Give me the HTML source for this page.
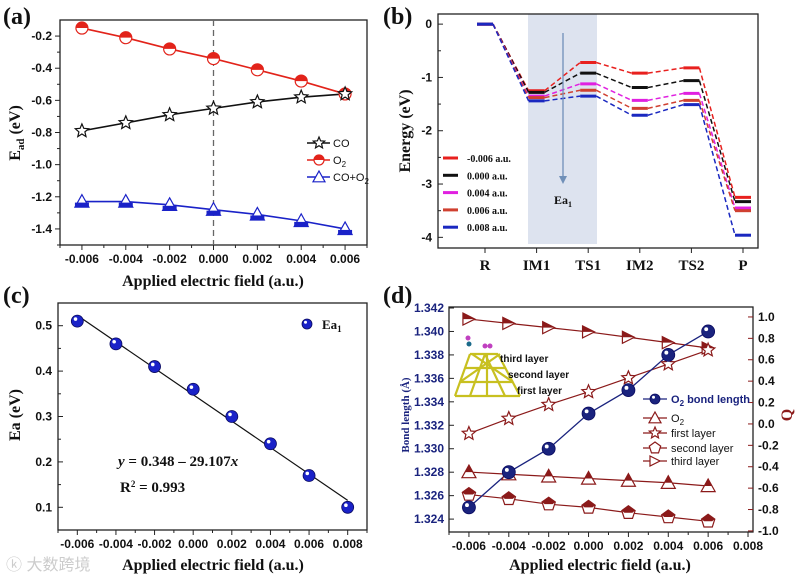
<!DOCTYPE html>
<html><head><meta charset="utf-8"><style>
body{margin:0;background:#fff;}
svg{display:block;font-family:"Liberation Sans",sans-serif;}
.tk{font-size:12px;font-weight:bold;fill:#111;}
.ti{font-family:"Liberation Serif",serif;font-weight:bold;font-size:16px;fill:#111;}
.pl{font-family:"Liberation Serif",serif;font-weight:bold;font-size:24px;fill:#111;}
.lg{font-size:11px;fill:#111;}
.lgs{font-family:"Liberation Serif",serif;font-weight:bold;font-size:10px;fill:#111;}
</style></head><body>
<svg id="fig" width="800" height="577" viewBox="0 0 800 577">
<text class="pl" x="3" y="24">(a)</text>
<text class="pl" x="383" y="24">(b)</text>
<text class="pl" x="3" y="303">(c)</text>
<text class="pl" x="383" y="303">(d)</text>
<text x="6" y="570" font-size="16" fill="#ccc" font-family="'Liberation Sans','Noto Sans CJK SC',sans-serif">ⓚ 大数跨境</text>
</svg>
<script>
// ---------- data ----------
const fieldA = [-0.006,-0.004,-0.002,0,0.002,0.004,0.006];
const coA = [-0.79,-0.74,-0.69,-0.65,-0.61,-0.58,-0.56];
const o2A = [-0.15,-0.21,-0.28,-0.34,-0.41,-0.48,-0.56];
const coo2A = [-1.23,-1.23,-1.25,-1.28,-1.31,-1.35,-1.40];
const ticksAx = ["-0.006","-0.004","-0.002","0.000","0.002","0.004","0.006"];
const ticksAy = [-0.2,-0.4,-0.6,-0.8,-1.0,-1.2,-1.4];

const statesB = ["R","IM1","TS1","IM2","TS2","P"];
const fieldsB = ["-0.006 a.u.","0.000 a.u.","0.004 a.u.","0.006 a.u.","0.008 a.u."];
const eM006 = [0,-1.25,-0.72,-0.92,-0.82,-3.25];
const e000 = [0,-1.28,-0.92,-1.19,-1.06,-3.33];
const e004 = [0,-1.35,-1.12,-1.43,-1.30,-3.45];
const e006 = [0,-1.38,-1.24,-1.58,-1.43,-3.50];
const e008 = [0,-1.44,-1.35,-1.71,-1.51,-3.96];
const ticksBy = [0,-1,-2,-3,-4];

const fieldC = [-0.006,-0.004,-0.002,0,0.002,0.004,0.006,0.008];
const ea1 = [0.51,0.46,0.41,0.36,0.30,0.24,0.17,0.10];
const fitC = [0.348,-29.107];
const ticksCx = ["-0.006","-0.004","-0.002","0.000","0.002","0.004","0.006","0.008"];
const ticksCy = [0.5,0.4,0.3,0.2,0.1];

const fieldD = [-0.006,-0.004,-0.002,0,0.002,0.004,0.006];
const bondD = [1.325,1.328,1.330,1.333,1.335,1.338,1.340];
const qO2 = [-0.45,-0.47,-0.49,-0.51,-0.53,-0.55,-0.58];
const qFirst = [-0.09,0.05,0.18,0.30,0.43,0.56,0.69];
const qSecond = [-0.66,-0.70,-0.75,-0.78,-0.83,-0.87,-0.91];
const qThird = [0.98,0.94,0.90,0.86,0.81,0.76,0.71];
const ticksDx = ["-0.006","-0.004","-0.002","0.000","0.002","0.004","0.006","0.008"];
const ticksDy = [1.342,1.340,1.338,1.336,1.334,1.332,1.330,1.328,1.326,1.324];
const ticksDq = [1.0,0.8,0.6,0.4,0.2,0.0,-0.2,-0.4,-0.6,-0.8,-1.0];

// ---------- helpers ----------
const NS="http://www.w3.org/2000/svg", svg=document.getElementById('fig');
function mk(tag,attrs,parent,txt){const e=document.createElementNS(NS,tag);for(const k in attrs)e.setAttribute(k,attrs[k]);if(txt!==undefined)e.textContent=txt;(parent||svg).appendChild(e);return e;}
function lin(d0,d1,r0,r1){return v=>r0+(v-d0)/(d1-d0)*(r1-r0);}
function frame(x0,y0,x1,y1,name){const r=mk('rect',{x:x0,y:y0,width:x1-x0,height:y1-y0,fill:'none',stroke:'#222','stroke-width':1.3});}
function poly(xs,ys,X,Y,col,name,dash){const p=xs.map((v,i)=>X(v)+','+Y(ys[i])).join(' ');const e=mk('polyline',{points:p,fill:'none',stroke:col,'stroke-width':1.6});if(dash)e.setAttribute('stroke-dasharray',dash);return e;}
function star(cx,cy,r,fill,stroke){let p=[];for(let i=0;i<10;i++){const a=-Math.PI/2+i*Math.PI/5,rr=i%2?r*0.45:r;p.push((cx+rr*Math.cos(a)).toFixed(1)+','+(cy+rr*Math.sin(a)).toFixed(1));}return mk('polygon',{points:p.join(' '),fill:fill,stroke:stroke,'stroke-width':1.2});}
function tri(cx,cy,r,fill,stroke,dir){let p;if(dir==='r')p=[[cx-r,cy-r],[cx+r,cy],[cx-r,cy+r]];else p=[[cx,cy-r],[cx+r,cy+r*0.8],[cx-r,cy+r*0.8]];return mk('polygon',{points:p.map(q=>q.join(',')).join(' '),fill:fill,stroke:stroke,'stroke-width':1.2});}
function pent(cx,cy,r,fill,stroke){let p=[];for(let i=0;i<5;i++){const a=-Math.PI/2+i*2*Math.PI/5;p.push((cx+r*Math.cos(a)).toFixed(1)+','+(cy+r*Math.sin(a)).toFixed(1));}return mk('polygon',{points:p.join(' '),fill:fill,stroke:stroke,'stroke-width':1.2});}
function halfCirc(cx,cy,r,col){mk('circle',{cx:cx,cy:cy,r:r,fill:'#fff',stroke:col,'stroke-width':1.2});return mk('path',{d:`M${cx-r},${cy} A${r},${r} 0 0 1 ${cx+r},${cy} Z`,fill:col});}
function ball(cx,cy,r,col){mk('circle',{cx:cx,cy:cy,r:r,fill:col,stroke:'#0a0a60','stroke-width':0.8});return mk('circle',{cx:cx-r*0.3,cy:cy-r*0.35,r:r*0.3,fill:'#fff'});}
function tickLabel(x,y,t,anchor,name,cls){const e=mk('text',{x:x,y:y,'text-anchor':anchor||'middle',class:cls||'tk'},svg,t);return e;}
function fs(e,s){e.style.fontSize=s+'px';return e;}
function vtitle(x,y,t,name,cls,col){const e=mk('text',{x:x,y:y,transform:`rotate(-90 ${x} ${y})`,'text-anchor':'middle',class:cls||'ti'},svg,t);if(col)e.style.fill=col;return e;}
function xticks(X,vals,labels,yb,name,minor){vals.forEach((v,i)=>{mk('line',{x1:X(v),x2:X(v),y1:yb,y2:yb+5,stroke:'#222'});if(labels)tickLabel(X(v),yb+18,labels[i],'middle',name);});if(minor)minor.forEach(v=>mk('line',{x1:X(v),x2:X(v),y1:yb,y2:yb+3,stroke:'#222'}));}

// ---------- Panel A ----------
{const X=lin(-0.007,0.007,60,367),Y=lin(-0.1,-1.5,20,245);
frame(60,20,367,245,'panel-a-plot-area');
xticks(X,fieldA,ticksAx,245,'a-x-tick',[-0.007,-0.005,-0.003,-0.001,0.001,0.003,0.005,0.007]);
ticksAy.forEach(v=>{mk('line',{x1:55,x2:60,y1:Y(v),y2:Y(v),stroke:'#222'});tickLabel(52,Y(v)+4,v.toFixed(1),'end','a-y-tick');mk('line',{x1:57,x2:60,y1:Y(v-0.1),y2:Y(v-0.1),stroke:'#222'});});
const zl=mk('line',{x1:X(0),x2:X(0),y1:20,y2:245,stroke:'#666','stroke-dasharray':'6,4','stroke-width':1.3});

poly(fieldA,o2A,X,Y,'#e2231a','o2-line');poly(fieldA,coA,X,Y,'#111','co-line');poly(fieldA,coo2A,X,Y,'#1a22c8','co-o2-line');
fieldA.forEach((f,i)=>{
 let m=halfCirc(X(f),Y(o2A[i]),6,'#e2231a');
 m=star(X(f),Y(coA[i]),7,'#fff','#111');
 m=tri(X(f),Y(coo2A[i]),7,'#fff','#1a22c8');
 mk('rect',{x:X(f)-7,y:Y(coo2A[i])+1,width:14,height:4.6,fill:'#1a22c8'});
});
const lgy=[143,160,177];
mk('line',{x1:307,x2:330,y1:lgy[0],y2:lgy[0],stroke:'#111','stroke-width':1.6});star(319,lgy[0],6,'#fff','#111');
mk('line',{x1:307,x2:330,y1:lgy[1],y2:lgy[1],stroke:'#e2231a','stroke-width':1.6});halfCirc(319,lgy[1],5,'#e2231a');
mk('line',{x1:307,x2:330,y1:lgy[2],y2:lgy[2],stroke:'#1a22c8','stroke-width':1.6});tri(319,lgy[2],6,'#fff','#1a22c8');
tickLabel(333,lgy[0]+4,'CO','start','legend-co','lg');
const t2=tickLabel(333,lgy[1]+4,'','start','legend-o2','lg');t2.innerHTML='O<tspan dy="3" font-size="8">2</tspan>';
const t3=tickLabel(333,lgy[2]+4,'','start','legend-co-o2','lg');t3.innerHTML='CO+O<tspan dy="3" font-size="8">2</tspan>';
const yt=vtitle(20,133,'','a-y-axis-title');yt.innerHTML='E<tspan dy="4" font-size="11">ad</tspan><tspan dy="-4"> (eV)</tspan>';
tickLabel(213,286,'Applied electric field (a.u.)','middle','a-x-axis-title','ti');
}

// ---------- Panel B ----------
{const X=i=>485+i*51.6,Y=lin(0.19,-4.2,14,248);
const sh=mk('rect',{x:528,y:14,width:69,height:230,fill:'#dde3ef'});
frame(438,14,758,248,'panel-b-plot-area');
statesB.forEach((s,i)=>{mk('line',{x1:X(i),x2:X(i),y1:248,y2:253,stroke:'#222'});fs(tickLabel(X(i),270,s,'middle','b-x-tick','ti'),15);});
ticksBy.forEach(v=>{mk('line',{x1:438,x2:443,y1:Y(v),y2:Y(v),stroke:'#222'});tickLabel(432,Y(v)+4,String(v),'end','b-y-tick');if(v>-4)mk('line',{x1:438,x2:441,y1:Y(v-0.5),y2:Y(v-0.5),stroke:'#222'});});
const series=[eM006,e000,e004,e006,e008],cols=['#e8201e','#111','#e020e0','#d04030','#1a28c0'],hw=8;
series.forEach((s,k)=>{
 for(let i=0;i<s.length-1;i++){const l=mk('line',{x1:X(i)+hw,y1:Y(s[i]),x2:X(i+1)-hw,y2:Y(s[i+1]),stroke:cols[k],'stroke-width':1.5,'stroke-dasharray':'5,3'});}
 s.forEach((v,i)=>{const l=mk('line',{x1:X(i)-hw,x2:X(i)+hw,y1:Y(v),y2:Y(v),stroke:cols[k],'stroke-width':3});});
});
const ar=mk('line',{x1:563,y1:33,x2:563,y2:180,stroke:'#7090b8','stroke-width':1.3});
mk('polygon',{points:'559,176 567,176 563,184',fill:'#7090b8'});
const ea=fs(tickLabel(563,204,'','middle','ea1-label','lgs'),12);ea.innerHTML='Ea<tspan dy="3" font-size="8">1</tspan>';
fieldsB.forEach((f,k)=>{const y=158+k*17.3;mk('line',{x1:443,x2:458,y1:y,y2:y,stroke:cols[k],'stroke-width':3});tickLabel(467,y+4,f,'start','b-legend-entry','lgs');});
vtitle(410,131,'Energy (eV)','b-y-axis-title');
}

// ---------- Panel C ----------
{const X=lin(-0.007,0.009,58,367),Y=lin(0.55,0.05,303,530);
frame(58,303,367,530,'panel-c-plot-area');
xticks(X,fieldC,ticksCx,530,'c-x-tick',[-0.007,-0.005,-0.003,-0.001,0.001,0.003,0.005,0.007,0.009]);
ticksCy.forEach(v=>{mk('line',{x1:58,x2:63,y1:Y(v),y2:Y(v),stroke:'#222'});tickLabel(52,Y(v)+4,v.toFixed(1),'end','c-y-tick');mk('line',{x1:58,x2:61,y1:Y(v+0.05),y2:Y(v+0.05),stroke:'#222'});});
const x0=fieldC[0],x1=fieldC[fieldC.length-1];
const fl=mk('line',{x1:X(x0),y1:Y(fitC[0]+fitC[1]*x0),x2:X(x1),y2:Y(fitC[0]+fitC[1]*x1),stroke:'#111','stroke-width':1.2});
fieldC.forEach((f,i)=>{const b=ball(X(f),Y(ea1[i]),6,'#1a22c8');});
ball(307,324,5,'#1a22c8');
const lt=fs(tickLabel(322,329,'','start','c-legend-ea1','lgs'),13);lt.innerHTML='Ea<tspan dy="3" font-size="9">1</tspan>';
const eq=fs(tickLabel(118,466,'','start','fit-equation','lgs'),15);eq.innerHTML='<tspan font-style="italic">y</tspan> = 0.348 – 29.107<tspan font-style="italic">x</tspan>';
const r2=fs(tickLabel(120,492,'','start','r-squared','lgs'),15);r2.innerHTML='R<tspan dy="-5" font-size="9">2</tspan><tspan dy="5"> = 0.993</tspan>';
vtitle(20,415,'Ea (eV)','c-y-axis-title');
tickLabel(213,570,'Applied electric field (a.u.)','middle','c-x-axis-title','ti');
}

// ---------- Panel D ----------
{const X=lin(-0.007,0.00825,449,753),Y=lin(1.342,1.3229,308,532),Q=lin(1.093,-1.01,307,532);
frame(449,307,753,532,'panel-d-plot-area');
xticks(X,fieldD.concat([0.008]),ticksDx,532,'d-x-tick',[-0.007,-0.005,-0.003,-0.001,0.001,0.003,0.005,0.007]);
ticksDy.forEach(v=>{mk('line',{x1:449,x2:454,y1:Y(v),y2:Y(v),stroke:'#222'});tickLabel(444,Y(v)+4,v.toFixed(3),'end','d-left-y-tick').style.fill='#1a237e';});
ticksDq.forEach(v=>{mk('line',{x1:748,x2:753,y1:Q(v),y2:Q(v),stroke:'#8b1a1a'});tickLabel(758,Q(v)+4,v.toFixed(1),'start','d-right-y-tick');});
const red='#8b1a1a',navy='#1a237e';
poly(fieldD,qThird,X,Q,red,'third-layer-line').setAttribute('stroke-width',1.2);
poly(fieldD,qFirst,X,Q,red,'first-layer-line').setAttribute('stroke-width',1.2);
poly(fieldD,qO2,X,Q,red,'o2-charge-line').setAttribute('stroke-width',1.2);
poly(fieldD,qSecond,X,Q,red,'second-layer-line').setAttribute('stroke-width',1.2);
poly(fieldD,bondD,X,Y,navy,'bond-length-line').setAttribute('stroke-width',1.3);
fieldD.forEach((f,i)=>{
 let m=tri(X(f),Q(qThird[i]),6,'#fff',red,'r');
 mk('path',{d:`M${X(f)-6},${Q(qThird[i])-6} L${X(f)+6},${Q(qThird[i])} L${X(f)-6},${Q(qThird[i])} Z`,fill:red});
 m=star(X(f),Q(qFirst[i]),7,'#fff',red);
 m=tri(X(f),Q(qO2[i]),7,'#fff',red);
 mk('path',{d:`M${X(f)},${Q(qO2[i])-7} L${X(f)+4},${Q(qO2[i])} L${X(f)-4},${Q(qO2[i])} Z`,fill:red});
 m=pent(X(f),Q(qSecond[i]),7,'#fff',red);
 mk('path',{d:`M${X(f)},${Q(qSecond[i])-7} L${X(f)+6.7},${Q(qSecond[i])-2.2} L${X(f)+4},${Q(qSecond[i])} L${X(f)-4},${Q(qSecond[i])} L${X(f)-6.7},${Q(qSecond[i])-2.2} Z`,fill:red});
 m=ball(X(f),Y(bondD[i]),6.5,navy);
});
// legend
const ly=[399,418,433,448,461],lx0=643,lx1=667;
mk('line',{x1:lx0,x2:lx1,y1:ly[0],y2:ly[0],stroke:navy,'stroke-width':1.3});ball(655,ly[0],5,navy);
for(let k=1;k<5;k++)mk('line',{x1:lx0,x2:lx1,y1:ly[k],y2:ly[k],stroke:red,'stroke-width':1.2});
tri(655,ly[1],6,'#fff',red);star(655,ly[2],6,'#fff',red);pent(655,ly[3],6,'#fff',red);tri(655,ly[4],5,'#fff',red,'r');
const l0=tickLabel(671,ly[0]+4,'','start','d-legend-bond-length','lg');l0.style.fontWeight='bold';l0.style.fill=navy;l0.innerHTML='O<tspan dy="3" font-size="8">2</tspan><tspan dy="-3"> bond length</tspan>';
const l1=tickLabel(671,ly[1]+4,'','start','d-legend-o2','lg');l1.innerHTML='O<tspan dy="3" font-size="8">2</tspan>';
tickLabel(671,ly[2]+4,'first layer','start','d-legend-first-layer','lg');
tickLabel(671,ly[3]+4,'second layer','start','d-legend-second-layer','lg');
tickLabel(671,ly[4]+4,'third layer','start','d-legend-third-layer','lg');
// inset cluster
const g=mk('g',{stroke:'#c8c020','stroke-width':2.2,fill:'none'});
[[455,396,520,396],[460,382,513,382],[465,368,505,368],[470,354,498,354],[455,396,470,354],[520,396,498,354],[470,396,485,354],[505,396,485,354],[460,382,500,354],[513,382,472,354],[487,396,487,354]].forEach(l=>mk('line',{x1:l[0],y1:l[1],x2:l[2],y2:l[3]},g));
mk('circle',{cx:469,cy:344,r:2.5,fill:'#1a6a8a'});mk('circle',{cx:468,cy:338,r:2.5,fill:'#c040c0'});mk('circle',{cx:485,cy:346,r:2.5,fill:'#c040c0'});mk('circle',{cx:490,cy:346,r:2.5,fill:'#c040c0'});
fs(tickLabel(500,362,'third layer','start','inset-third-layer','lg'),10).style.fontWeight='bold';
fs(tickLabel(508,378,'second layer','start','inset-second-layer','lg'),10).style.fontWeight='bold';
fs(tickLabel(517,394,'first layer','start','inset-first-layer','lg'),10).style.fontWeight='bold';
fs(vtitle(409,415,'Bond length (Å)','d-left-y-axis-title','ti',navy),11);
vtitle(792,415,'Q','d-right-y-axis-title','ti',red);
tickLabel(600,570,'Applied electric field (a.u.)','middle','d-x-axis-title','ti');
}
</script>
</body></html>
